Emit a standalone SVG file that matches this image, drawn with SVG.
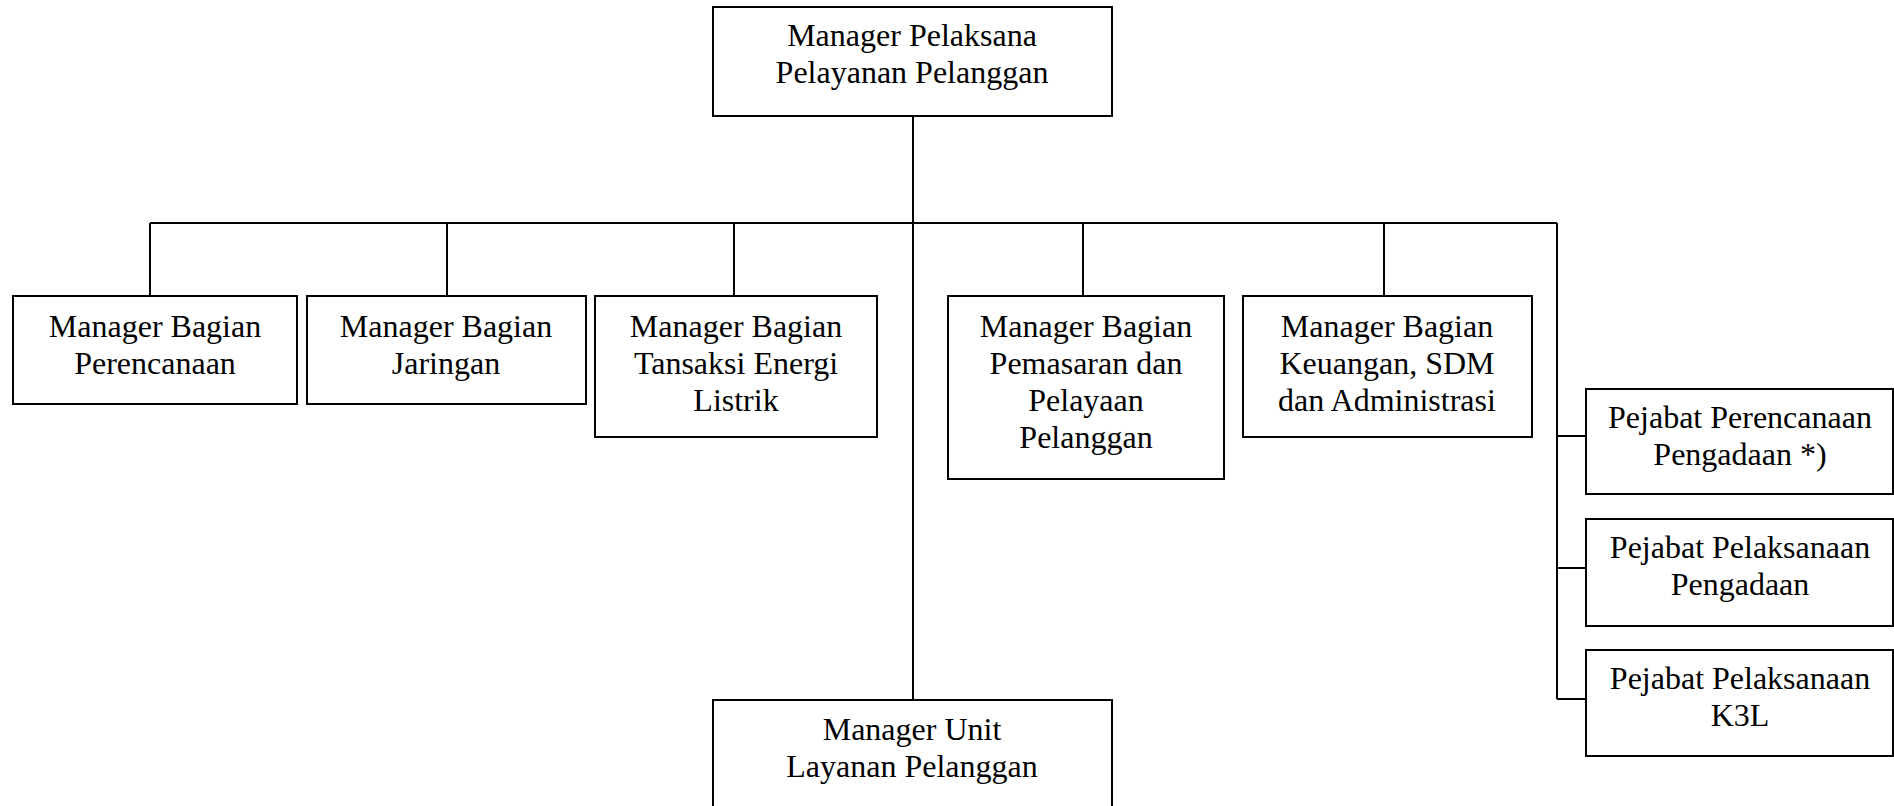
<svg xmlns="http://www.w3.org/2000/svg" width="1894" height="806" viewBox="0 0 1894 806">
<style>
.box{fill:#fff;stroke:#000;stroke-width:2}
.ln{fill:none;stroke:#000;stroke-width:2}
text{font-family:"Liberation Serif","Times New Roman",serif;font-size:32px;fill:#000;text-anchor:middle}
</style>
<rect width="1894" height="806" fill="#fff"/>
<g id="connectors">
<line class="ln" x1="913" y1="116" x2="913" y2="700"/>
<line class="ln" x1="150" y1="223" x2="1557" y2="223"/>
<line class="ln" x1="150" y1="223" x2="150" y2="296"/>
<line class="ln" x1="447" y1="223" x2="447" y2="296"/>
<line class="ln" x1="734" y1="223" x2="734" y2="296"/>
<line class="ln" x1="1083" y1="223" x2="1083" y2="296"/>
<line class="ln" x1="1384" y1="223" x2="1384" y2="296"/>
<line class="ln" x1="1557" y1="223" x2="1557" y2="699"/>
<line class="ln" x1="1557" y1="436" x2="1586" y2="436"/>
<line class="ln" x1="1557" y1="568" x2="1586" y2="568"/>
<line class="ln" x1="1557" y1="699" x2="1586" y2="699"/>
</g>
<g id="n_top"><rect class="box" x="713" y="7" width="399" height="109"/><text x="912" y="46">Manager Pelaksana</text><text x="912" y="83">Pelayanan Pelanggan</text></g>
<g id="n_perencanaan"><rect class="box" x="13" y="296" width="284" height="108"/><text x="155" y="337">Manager Bagian</text><text x="155" y="374">Perencanaan</text></g>
<g id="n_jaringan"><rect class="box" x="307" y="296" width="279" height="108"/><text x="446" y="337">Manager Bagian</text><text x="446" y="374">Jaringan</text></g>
<g id="n_tansaksi"><rect class="box" x="595" y="296" width="282" height="141"/><text x="736" y="337">Manager Bagian</text><text x="736" y="374">Tansaksi Energi</text><text x="736" y="411">Listrik</text></g>
<g id="n_pemasaran"><rect class="box" x="948" y="296" width="276" height="183"/><text x="1086" y="337">Manager Bagian</text><text x="1086" y="374">Pemasaran dan</text><text x="1086" y="411">Pelayaan</text><text x="1086" y="448">Pelanggan</text></g>
<g id="n_keuangan"><rect class="box" x="1243" y="296" width="289" height="141"/><text x="1387" y="337">Manager Bagian</text><text x="1387" y="374">Keuangan, SDM</text><text x="1387" y="411">dan Administrasi</text></g>
<g id="n_ppp"><rect class="box" x="1586" y="389" width="307" height="105"/><text x="1740" y="428">Pejabat Perencanaan</text><text x="1740" y="465">Pengadaan *)</text></g>
<g id="n_ppl"><rect class="box" x="1586" y="519" width="307" height="107"/><text x="1740" y="558">Pejabat Pelaksanaan</text><text x="1740" y="595">Pengadaan</text></g>
<g id="n_k3l"><rect class="box" x="1586" y="650" width="307" height="106"/><text x="1740" y="689">Pejabat Pelaksanaan</text><text x="1740" y="726">K3L</text></g>
<g id="n_ulp"><rect class="box" x="713" y="700" width="399" height="130"/><text x="912" y="740">Manager Unit</text><text x="912" y="777">Layanan Pelanggan</text></g>
</svg>
